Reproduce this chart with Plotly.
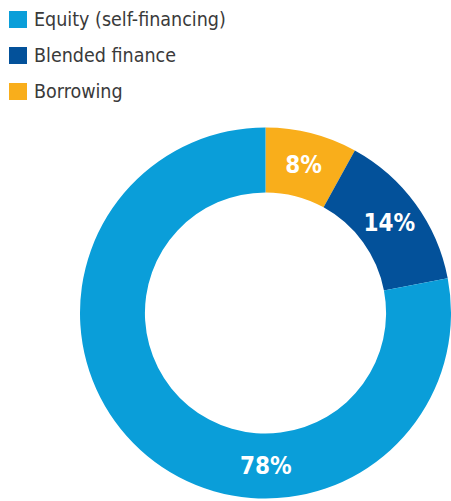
import plotly.graph_objects as go

# Funding sources (share of total, %)
labels = ["Equity (self-financing)", "Blended finance", "Borrowing"]
values = [78, 14, 8]
colors = ["#0a9ed9", "#03519a", "#f9ae1b"]

W, H = 451, 501
FONT = "DejaVu Sans Condensed, Liberation Sans Narrow, Roboto, sans-serif"

# Donut geometry (paper fractions)
dom_x = [80 / W, 1.0]
dom_y = [2 / H, 374 / H]
hole = 0.65

# Ring runs clockwise from 12 o'clock: smallest share first
ring_labels = labels[::-1]
ring_values = values[::-1]
ring_colors = colors[::-1]
# Slices other than the large one carry their value inside the ring
ring_text = [f"{v}%" if lab != labels[0] else "" for lab, v in zip(ring_labels, ring_values)]

fig = go.Figure(
    go.Pie(
        labels=ring_labels,
        values=ring_values,
        marker=dict(colors=ring_colors, line=dict(width=0)),
        hole=hole,
        sort=False,
        direction="clockwise",
        rotation=0,
        text=ring_text,
        textinfo="text",
        textposition="inside",
        insidetextorientation="horizontal",
        insidetextfont=dict(family=FONT, size=24, color="white", weight="bold"),
        domain=dict(x=dom_x, y=dom_y),
        showlegend=False,
        hoverinfo="label+percent",
    )
)

# Label for the large slice, placed at the bottom of the ring
cx = (dom_x[0] + dom_x[1]) / 2 * W
cy = (1 - (dom_y[0] + dom_y[1]) / 2) * H
r_out = min((dom_x[1] - dom_x[0]) * W, (dom_y[1] - dom_y[0]) * H) / 2
r_mid = r_out * (1 + hole) / 2
fig.add_annotation(
    x=cx / W, y=1 - (cy + r_mid) / H, xref="paper", yref="paper",
    text=f"{values[0]}%", showarrow=False, xanchor="center", yanchor="middle",
    font=dict(family=FONT, size=24, color="white", weight="bold"),
)

# Legend: coloured squares with labels
row_y = [19.5, 55.5, 91.5]
for lab, col, y in zip(labels, colors, row_y):
    fig.add_shape(
        type="rect", xref="paper", yref="paper",
        x0=9 / W, x1=27 / W, y0=1 - (y - 8.5) / H, y1=1 - (y + 8.5) / H,
        fillcolor=col, line=dict(width=0),
    )
    fig.add_annotation(
        x=32 / W, y=1 - y / H, xref="paper", yref="paper",
        text=lab, showarrow=False, xanchor="left", yanchor="middle",
        font=dict(family=FONT, size=19.5, color="#3a3a3a"),
    )

fig.update_layout(
    width=W, height=H,
    margin=dict(l=0, r=0, t=0, b=0),
    paper_bgcolor="white", plot_bgcolor="white",
)

fig.write_html("out.html")
